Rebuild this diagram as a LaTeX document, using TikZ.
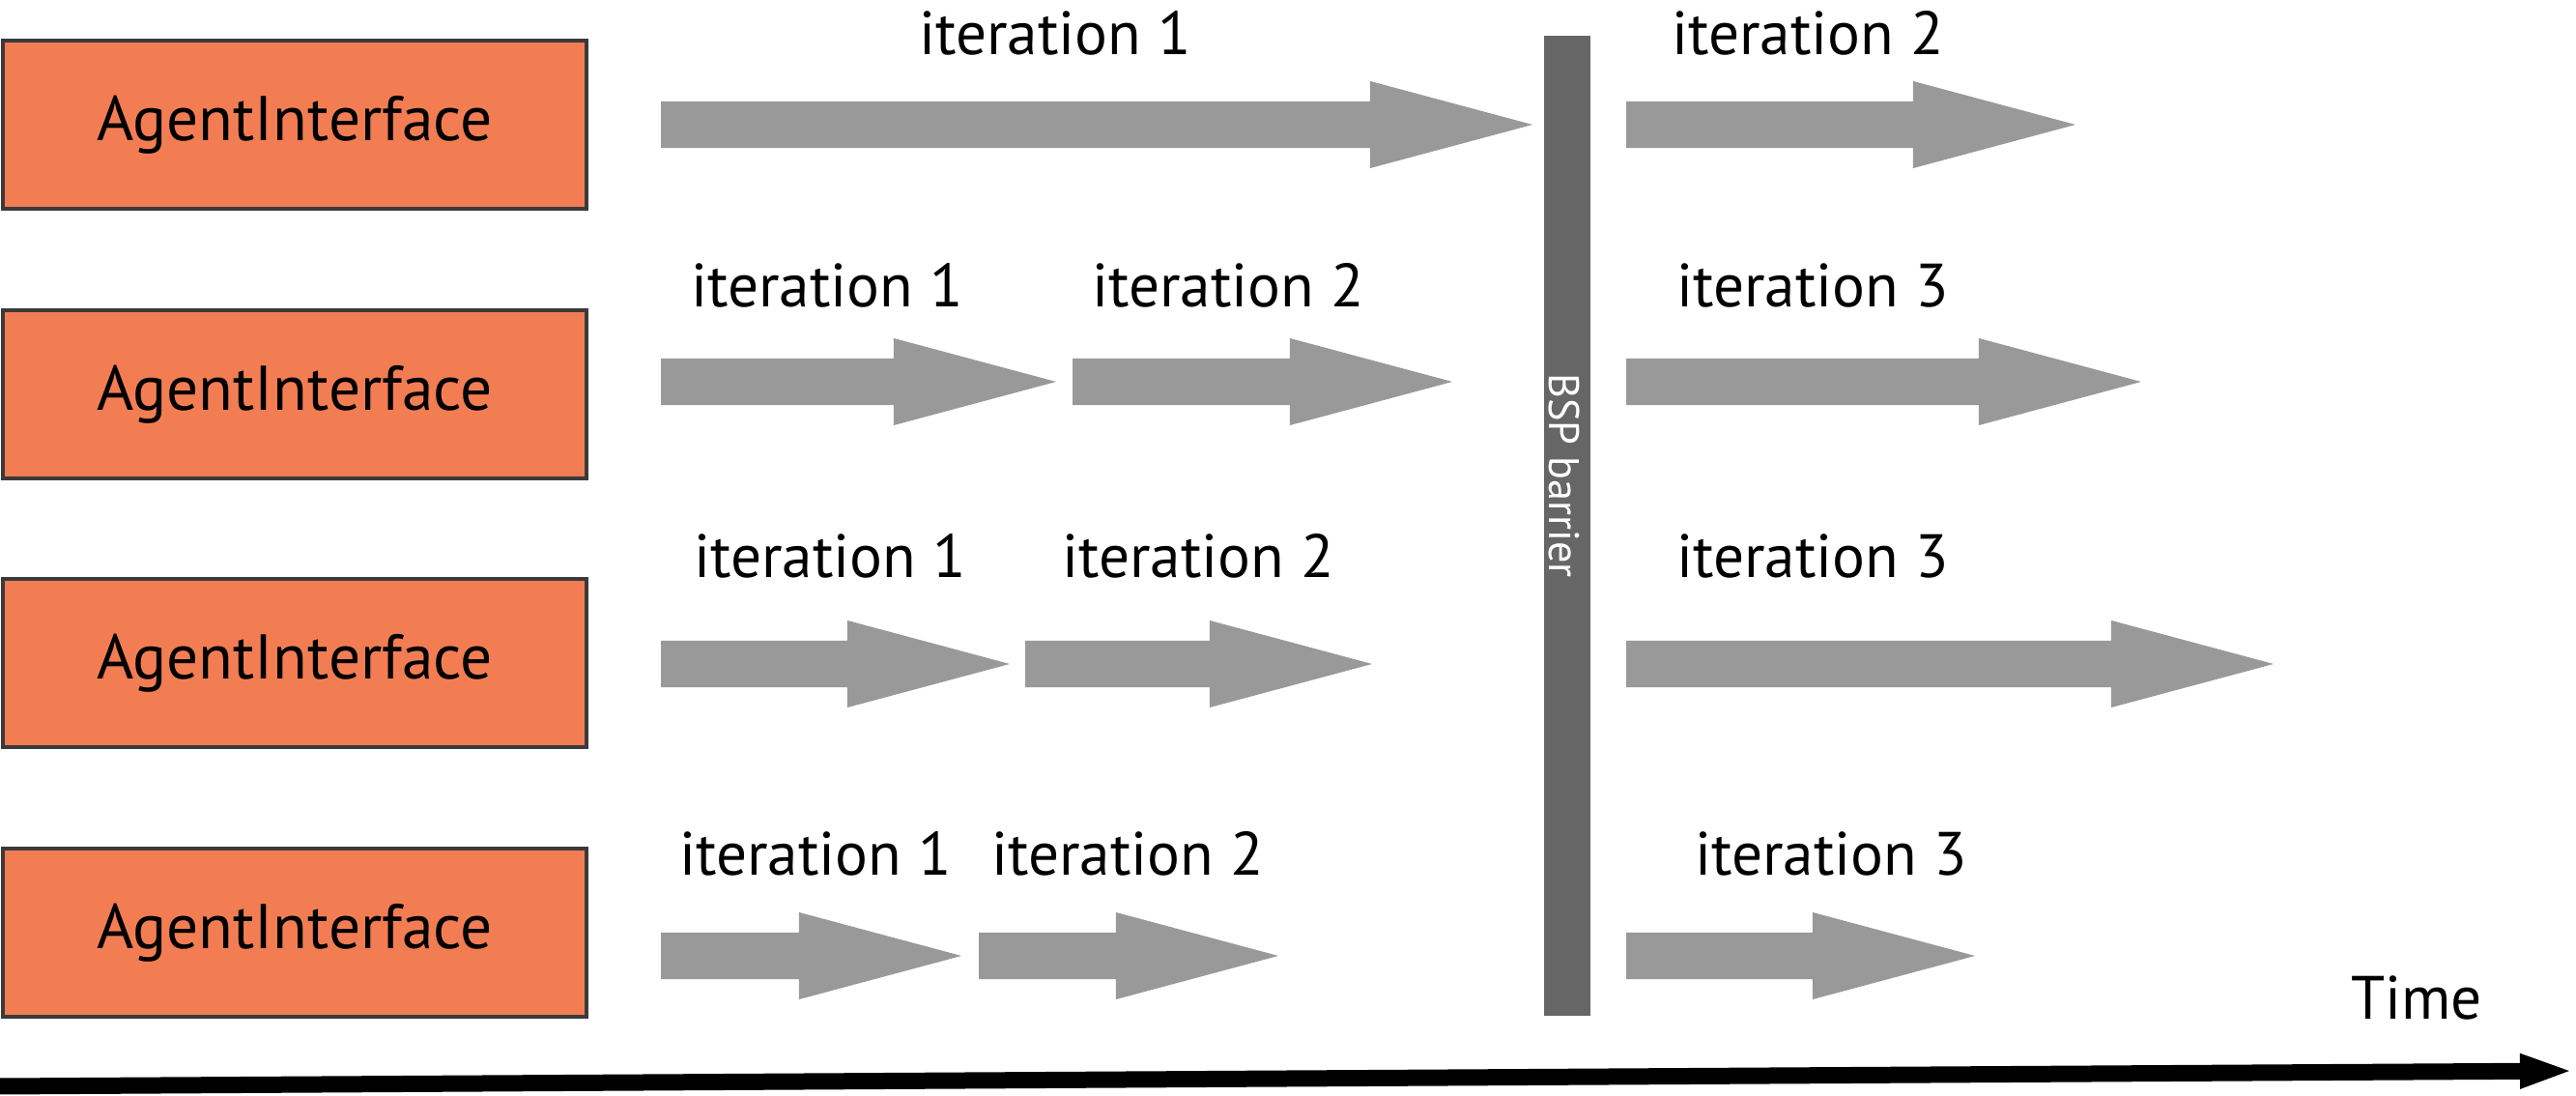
\documentclass[tikz,border=0pt]{standalone}
\usepackage{fontspec}
\setmainfont{PT Sans}
\usepackage{tikz}
\usetikzlibrary{arrows,arrows.meta,shapes,positioning,calc}

\definecolor{agentOrange}{HTML}{F37D53}
\definecolor{arrowGray}{HTML}{999999}
\definecolor{barrierGray}{HTML}{666666}
\definecolor{borderGray}{HTML}{3A3A3A}

\begin{document}
\begin{tikzpicture}[semithick]

\useasboundingbox (0,0) rectangle (26.66,11.34);

\tikzset{
	agentBox/.style={
		fill=agentOrange,
		rectangle,
		minimum width=6.04cm,
		minimum height=1.74cm,
		draw=borderGray,
		line width=0.4mm,
		outer sep=0pt,
		font=\fontsize{18.6}{20}\selectfont
	}
}

\tikzset{
	iterArrow/.style={
		single arrow,
		fill=arrowGray,
		draw=none,
		inner sep=0pt,
		outer sep=0pt,
		text height=0.23cm,
		text depth=0.23cm,
		minimum width=0.88cm,
		single arrow head extend=0.21cm,
		single arrow tip angle=30,
		single arrow head indent=0cm,
		anchor=west
	}
}

\tikzset{
	iterLabel/.style={
		anchor=base,
		inner sep=0pt,
		font=\fontsize{18}{20}\selectfont
	}
}

\tikzset{
	barrierBar/.style={
		fill=barrierGray,
		rectangle,
		draw=none,
		minimum width=0.48cm,
		minimum height=10.14cm,
		inner sep=0pt
	}
}

\node[agentBox](agent1) at (3.05,10.05) {AgentInterface};
\node[agentBox](agent2) [below=1.047cm of agent1] {AgentInterface};
\node[agentBox](agent3) [below=1.047cm of agent2] {AgentInterface};
\node[agentBox](agent4) [below=1.047cm of agent3] {AgentInterface};

\node[barrierBar](bsp) at (16.22,5.90) {};
\node[rotate=-90, text=white, font=\fontsize{12.6}{14}\selectfont](bspText) at (16.19,6.42) {BSP barrier};

% row 1
\node[iterArrow, minimum height=9.02cm](it11) at (6.84,10.05) {};
\node[iterArrow, minimum height=4.65cm](it12) at (16.83,10.05) {};
\node[iterLabel](lab11) at (10.92,10.77) {iteration 1};
\node[iterLabel](lab12) at (18.71,10.77) {iteration 2};

% row 2
\node[iterArrow, minimum height=4.09cm](it21) at (6.84,7.39) {};
\node[iterArrow, minimum height=3.93cm](it22) at (11.10,7.39) {};
\node[iterArrow, minimum height=5.33cm](it23) at (16.83,7.39) {};
\node[iterLabel](lab21) at (8.56,8.16) {iteration 1};
\node[iterLabel](lab22) at (12.71,8.16) {iteration 2};
\node[iterLabel](lab23) at (18.76,8.16) {iteration 3};

% row 3
\node[iterArrow, minimum height=3.61cm](it31) at (6.84,4.47) {};
\node[iterArrow, minimum height=3.59cm](it32) at (10.61,4.47) {};
\node[iterArrow, minimum height=6.70cm](it33) at (16.83,4.47) {};
\node[iterLabel](lab31) at (8.59,5.36) {iteration 1};
\node[iterLabel](lab32) at (12.40,5.36) {iteration 2};
\node[iterLabel](lab33) at (18.76,5.36) {iteration 3};

% row 4
\node[iterArrow, minimum height=3.11cm](it41) at (6.84,1.45) {};
\node[iterArrow, minimum height=3.10cm](it42) at (10.13,1.45) {};
\node[iterArrow, minimum height=3.61cm](it43) at (16.83,1.45) {};
\node[iterLabel](lab41) at (8.44,2.28) {iteration 1};
\node[iterLabel](lab42) at (11.67,2.28) {iteration 2};
\node[iterLabel](lab43) at (18.95,2.28) {iteration 3};

% time axis
\node[iterLabel](timeLabel) at (25.01,0.79) {Time};
\coordinate (timeStart) at (0,0.10);
\coordinate (timeEnd) at (26.64,0.26);
\draw[line width=1.7mm, -{Triangle[length=5.6mm,width=3.2mm]}] (timeStart) -- (timeEnd);

\end{tikzpicture}
\end{document}
